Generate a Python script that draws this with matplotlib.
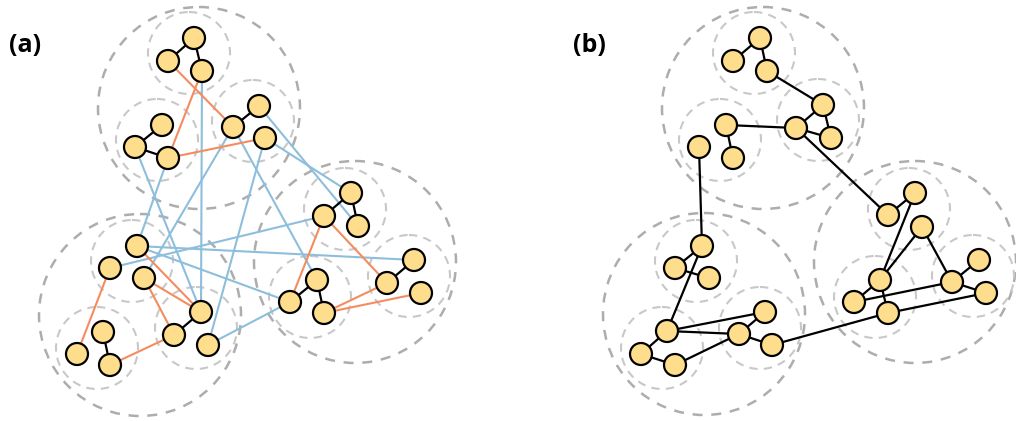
import matplotlib
matplotlib.use('Agg')
import matplotlib.pyplot as plt
from matplotlib.patches import Circle

# ---- data (pixel layout of the two networks) ----
# panel (a) nodes
a_x = [194, 168, 202, 162, 135, 168, 233, 259, 265,
       137, 110, 144, 103, 77, 110, 201, 174, 208,
       351, 324, 358, 317, 290, 324, 414, 387, 421]
a_y = [38, 61, 71, 125, 147, 158, 127, 106, 138,
       246, 268, 278, 332, 354, 365, 312, 335, 345,
       193, 216, 226, 280, 302, 313, 260, 283, 293]
a_black = [(0, 1), (0, 2), (3, 4), (4, 5), (6, 7), (12, 14), (15, 16),
           (18, 19), (18, 20), (21, 22), (21, 23), (24, 25)]
a_orange = [(1, 6), (2, 5), (5, 8), (10, 13), (9, 15), (11, 15), (11, 16),
            (14, 16), (19, 22), (19, 25), (23, 25), (23, 26)]
a_blue = [(2, 15), (4, 15), (5, 9), (6, 11), (8, 17), (6, 21), (7, 20),
          (8, 18), (9, 24), (9, 22), (10, 19), (17, 22)]
a_big = [(199, 108), (140, 315), (355, 262)]
a_small = [(189, 53), (157, 140), (253, 121),
           (132, 261), (97, 348), (196, 328),
           (345, 209), (310, 297), (409, 276)]

# panel (b) nodes
b_x = [760, 733, 767, 726, 699, 733, 796, 823, 831,
       702, 675, 709, 667, 641, 675, 765, 739, 772,
       915, 888, 922, 880, 854, 888, 979, 952, 986]
b_y = [38, 61, 71, 125, 147, 158, 128, 105, 138,
       246, 268, 278, 331, 354, 365, 312, 334, 345,
       193, 215, 227, 280, 302, 313, 260, 282, 293]
b_black = [(0, 1), (0, 2), (3, 5), (6, 7), (7, 8), (6, 8), (9, 10), (10, 11),
           (12, 13), (13, 14), (16, 15), (16, 17), (18, 19), (21, 22), (21, 23),
           (25, 24), (25, 26),
           (2, 7), (3, 6), (4, 9), (6, 19), (9, 12), (12, 15), (12, 16), (14, 16),
           (17, 23), (22, 25), (23, 26), (21, 20), (21, 18), (20, 25)]
b_big = [(763, 108), (704, 314), (915, 262)]
b_small = [(754, 53), (720, 140), (818, 120),
           (696, 261), (662, 348), (760, 328),
           (909, 209), (875, 297), (973, 276)]

node_fill = '#FEDD8C'
orange = '#F58B5E'
blue = '#8DBFDD'

fig = plt.figure(figsize=(10.16, 4.21), dpi=100)
ax = fig.add_axes([0, 0, 1, 1])
ax.set_xlim(0, 1016)
ax.set_ylim(421, 0)
ax.axis('off')


def draw_panel(xs, ys, big, small, edge_sets):
    for c in big:
        ax.add_patch(Circle(c, 101, fill=False, ec='#ADADAD', lw=1.8,
                            ls=(0, (4, 3.5)), zorder=1))
    for c in small:
        ax.add_patch(Circle(c, 41, fill=False, ec='#C8C8C8', lw=1.5,
                            ls=(0, (4, 3)), zorder=1))
    for edges, col, lw in edge_sets:
        for i, j in edges:
            ax.plot([xs[i], xs[j]], [ys[i], ys[j]], color=col, lw=lw,
                    solid_capstyle='butt', zorder=2)
    for x, y in zip(xs, ys):
        ax.add_patch(Circle((x, y), 11, fc=node_fill, ec='black', lw=1.6,
                            zorder=3))


draw_panel(a_x, a_y, a_big, a_small,
           [(a_blue, blue, 1.5), (a_orange, orange, 1.5), (a_black, 'black', 1.6)])
draw_panel(b_x, b_y, b_big, b_small, [(b_black, 'black', 1.6)])

ax.text(25, 46, '(a)', fontsize=18, fontweight='bold', family='Open Sans',
        ha='center', va='center')
ax.text(589, 46, '(b)', fontsize=18, fontweight='bold', family='Open Sans',
        ha='center', va='center')

fig.savefig('out.png', dpi=100)
